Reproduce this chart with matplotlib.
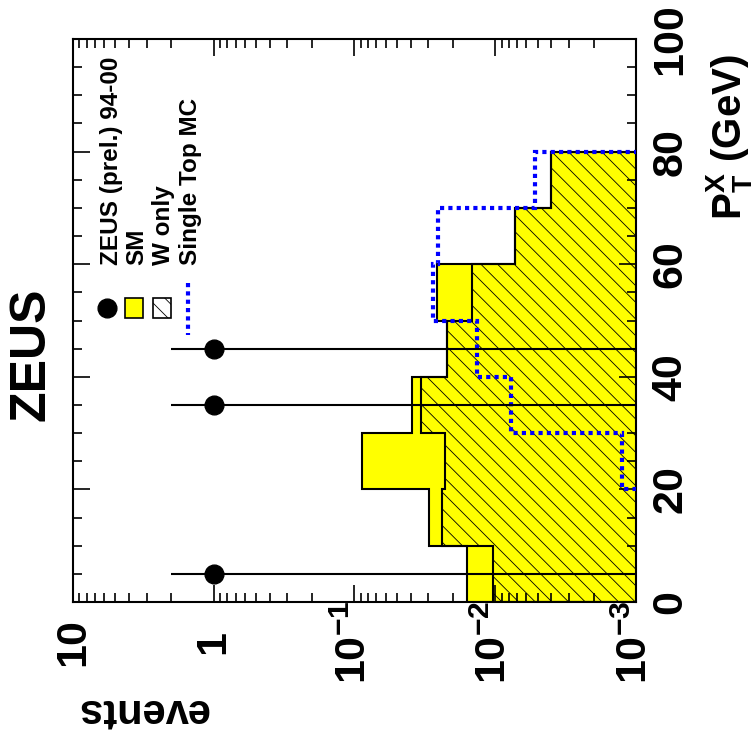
import numpy as np
import matplotlib
matplotlib.use('Agg')
import matplotlib.pyplot as plt
from matplotlib.patches import Rectangle
from matplotlib.ticker import LogLocator, MultipleLocator, NullFormatter

plt.rcParams['font.family'] = 'Liberation Sans'
plt.rcParams['font.weight'] = 'bold'
plt.rcParams['axes.labelweight'] = 'bold'
plt.rcParams['mathtext.fontset'] = 'custom'
plt.rcParams['mathtext.rm'] = 'Liberation Sans:bold'
plt.rcParams['mathtext.bf'] = 'Liberation Sans:bold'
plt.rcParams['mathtext.it'] = 'Liberation Sans:bold'
plt.rcParams['mathtext.default'] = 'bf'
plt.rcParams['hatch.linewidth'] = 0.6

# P_T^X bins (GeV)
pt_edges = [0, 10, 20, 30, 40, 50, 60, 70, 80]
# expected events per bin
sm_events = [0.0160, 0.0296, 0.088, 0.0392, 0.0222, 0.0258, 0.00724, 0.00402]
w_only_events = [0.0104, 0.0240, 0.0227, 0.0339, 0.0219, 0.0147, 0.00724, 0.00402]
single_top_events = [2e-4, 3e-4, 0.00125, 0.00773, 0.01355, 0.0275, 0.0256, 0.00522]

# ZEUS data
zeus_pt = [5, 35, 45]
zeus_events = np.array([1.0, 1.0, 1.0])
zeus_err = np.array([1.0, 1.0, 1.0])

x_ticks = [10, 1, 0.1, 0.01, 0.001]
x_ticklabels = ['10', '1', r'$10^{-1}$', r'$10^{-2}$', r'$10^{-3}$']

fig = plt.figure(figsize=(7.56, 7.40), dpi=100)
ax = fig.add_axes([73/756, 138/740, 563/756, 563/740])
ax.set_xscale('log')

base = 1e-5
ax.stairs(sm_events, pt_edges, orientation='horizontal', baseline=base, fill=True,
          facecolor='#ffff00', edgecolor='black', linewidth=1.5, zorder=1)
ax.stairs(w_only_events, pt_edges, orientation='horizontal', baseline=base, fill=True,
          facecolor='none', edgecolor='black', hatch='\\\\', linewidth=1.5, zorder=2)
ax.stairs(single_top_events, pt_edges, orientation='horizontal', baseline=base, fill=False,
          edgecolor='#0000ff', linewidth=3, linestyle=(0, (1, 1)), zorder=3)

lo = zeus_events - np.maximum(zeus_events - zeus_err, base)
ax.errorbar(zeus_events, zeus_pt, xerr=[lo, zeus_err], fmt='o', color='black',
            ms=13.5, elinewidth=1.5, capsize=0, zorder=5)

ax.set_xlim(10, 1e-3)
ax.set_ylim(0, 100)

ax.set_xticks(x_ticks)
ax.set_xticklabels(x_ticklabels)
ax.xaxis.set_minor_locator(LogLocator(base=10, subs=np.arange(2, 10), numticks=20))
ax.xaxis.set_minor_formatter(NullFormatter())
ax.yaxis.set_major_locator(MultipleLocator(20))
ax.yaxis.set_minor_locator(MultipleLocator(5))

ax.tick_params(which='both', direction='in', top=True, bottom=True, left=True, right=True,
               width=1.2)
ax.tick_params(which='major', length=12)
ax.tick_params(which='minor', length=6.5)
ax.tick_params(axis='y', labelleft=False, labelright=True, pad=25, labelsize=31)
ax.tick_params(axis='x', pad=29, labelsize=31)
for lbl in ax.get_xticklabels():
    lbl.set_rotation(90)
    lbl.set_va('center')
    lbl.set_ha('center')
for lbl in ax.get_yticklabels():
    lbl.set_rotation(90)
    lbl.set_va('center')
    lbl.set_ha('center')
for s in ax.spines.values():
    s.set_linewidth(1.5)

ax.yaxis.set_label_position('right')
ax.set_ylabel(r'$P_{T}^{X}$ (GeV)', fontsize=29, fontweight='bold', rotation=90,
              ha='center', va='center')
ax.yaxis.set_label_coords(1.165, 0.826)
ax.set_xlabel('events', fontsize=30, fontweight='bold', rotation=180, ha='center', va='center')
ax.xaxis.set_label_coords(0.124, -0.192)

fig.text(31/756, 1 - 354/740, 'ZEUS', fontsize=36, rotation=90, ha='center', va='center')

# legend (rotated with the plot)
leg_y = 0.522
ax.plot([0.0604], [leg_y], 'o', color='black', ms=13.5, transform=ax.transAxes, clip_on=False)
ax.add_patch(Rectangle((0.108 - 0.0165, leg_y - 0.0178), 0.033, 0.0356, transform=ax.transAxes,
                       facecolor='#ffff00', edgecolor='black', linewidth=1.2))
ax.add_patch(Rectangle((0.158 - 0.0165, leg_y - 0.0178), 0.033, 0.0356, transform=ax.transAxes,
                       facecolor='white', edgecolor='black', hatch='\\\\', linewidth=1.2))
ax.plot([0.205, 0.205], [0.567, 0.474], color='#0000ff', linewidth=3, linestyle=(0, (1, 1)),
        transform=ax.transAxes)
leg_text = ['ZEUS (prel.) 94-00', 'SM', 'W only', 'Single Top MC']
leg_x = [0.080, 0.1243, 0.1723, 0.2202]
for t, xx in zip(leg_text, leg_x):
    ax.text(xx, 0.599, t, transform=ax.transAxes, fontsize=17.5, rotation=90,
            rotation_mode='anchor', ha='left', va='baseline')

fig.savefig('out.png', dpi=100)
